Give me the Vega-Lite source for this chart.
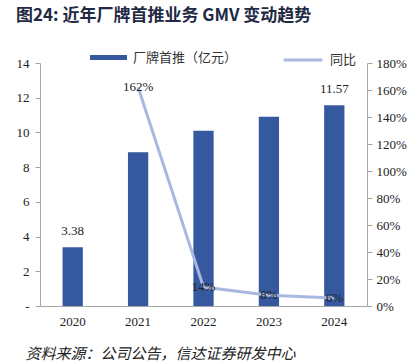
{
  "$schema": "https://vega.github.io/schema/vega-lite/v6.json",
  "width": 327,
  "height": 243,
  "autosize": {"type": "none"},
  "padding": {"left": 40, "top": 63, "right": 52, "bottom": 58},
  "background": "white",
  "config": {
    "view": {"stroke": null},
    "font": "'Liberation Serif', 'Times New Roman', serif",
    "axis": {"labelFont": "'Liberation Serif', 'Times New Roman', serif", "labelFontSize": 13, "labelColor": "#222", "domainColor": "#a6a6a6", "tickColor": "#a6a6a6", "grid": false}
  },
  "title": {
    "text": "图24: 近年厂牌首推业务 GMV 变动趋势",
    "font": "Noto Sans CJK SC",
    "fontWeight": "bold",
    "fontSize": 17,
    "color": "#1f2a44",
    "anchor": "start",
    "dx": 0,
    "offset": 14
  },
  "data": {
    "values": [
      {"year": "2020", "gmv": 3.38, "yoy": null},
      {"year": "2021", "gmv": 8.86, "yoy": 1.62},
      {"year": "2022", "gmv": 10.1, "yoy": 0.14},
      {"year": "2023", "gmv": 10.91, "yoy": 0.08},
      {"year": "2024", "gmv": 11.57, "yoy": 0.06}
    ]
  },
  "encoding": {
    "x": {
      "field": "year",
      "type": "nominal",
      "scale": {"paddingInner": 0.69, "paddingOuter": 0.345},
      "axis": {
        "labelAngle": 0,
        "ticks": false,
        "labelPadding": 9,
        "title": "资料来源：公司公告，信达证券研发中心",
        "titleFont": "Noto Sans CJK SC",
        "titleFontWeight": "normal",
        "titleFontStyle": "italic",
        "titleFontSize": 15,
        "titleColor": "#222",
        "titleAnchor": "start",
        "titleX": -15,
        "titleY": 47,
        "titleBaseline": "middle"
      }
    }
  },
  "layer": [
    {
      "mark": {"type": "bar"},
      "encoding": {
        "y": {
          "field": "gmv",
          "type": "quantitative",
          "scale": {"domain": [0, 14]},
          "axis": {"title": null, "values": [0, 2, 4, 6, 8, 10, 12, 14], "tickSize": 5, "labelPadding": 6, "labelExpr": "datum.value == 0 ? '-' : datum.label"}
        },
        "fill": {
          "datum": "厂牌首推（亿元）",
          "scale": {"domain": ["厂牌首推（亿元）"], "range": ["#35589f"]},
          "legend": {
            "orient": "none", "legendX": 50, "legendY": -24, "title": null,
            "symbolType": "M-1,-0.13H1V0.13H-1Z", "symbolSize": 1369, "symbolStrokeWidth": 0,
            "labelFont": "Noto Sans CJK SC", "labelFontSize": 13, "labelColor": "#333", "labelOffset": 6
          }
        }
      }
    },
    {
      "transform": [{"filter": "datum.year == '2020' || datum.year == '2024'"}],
      "mark": {"type": "text", "baseline": "bottom", "dy": -9, "fontSize": 13, "font": "'Liberation Serif', 'Times New Roman', serif", "color": "#222"},
      "encoding": {
        "y": {"field": "gmv", "type": "quantitative", "scale": {"domain": [0, 14]}, "axis": null},
        "text": {"field": "gmv", "type": "quantitative", "format": ".2f"}
      }
    },
    {
      "transform": [{"filter": "datum.yoy != null"}],
      "mark": {"type": "line", "strokeWidth": 3},
      "encoding": {
        "y": {
          "field": "yoy",
          "type": "quantitative",
          "scale": {"domain": [0, 1.8]},
          "axis": {"orient": "right", "title": null, "format": ".0%", "values": [0, 0.2, 0.4, 0.6, 0.8, 1.0, 1.2, 1.4, 1.6, 1.8], "tickSize": 5, "labelPadding": 4}
        },
        "stroke": {
          "datum": "同比",
          "scale": {"domain": ["同比"], "range": ["#a9b8e0"]},
          "legend": {
            "orient": "none", "legendX": 242, "legendY": -24, "title": null,
            "symbolType": "stroke", "symbolSize": 1500, "symbolStrokeWidth": 3,
            "labelFont": "Noto Sans CJK SC", "labelFontSize": 13, "labelColor": "#333", "labelOffset": 6
          }
        }
      }
    },
    {
      "transform": [{"filter": "datum.yoy != null"}],
      "mark": {"type": "text", "baseline": "middle", "fontSize": 13, "font": "'Liberation Serif', 'Times New Roman', serif", "color": "#222"},
      "encoding": {
        "y": {"field": "yoy", "type": "quantitative", "scale": {"domain": [0, 1.8]}, "axis": null},
        "text": {"field": "yoy", "type": "quantitative", "format": ".0%"}
      }
    }
  ],
  "resolve": {"scale": {"y": "independent"}}
}
